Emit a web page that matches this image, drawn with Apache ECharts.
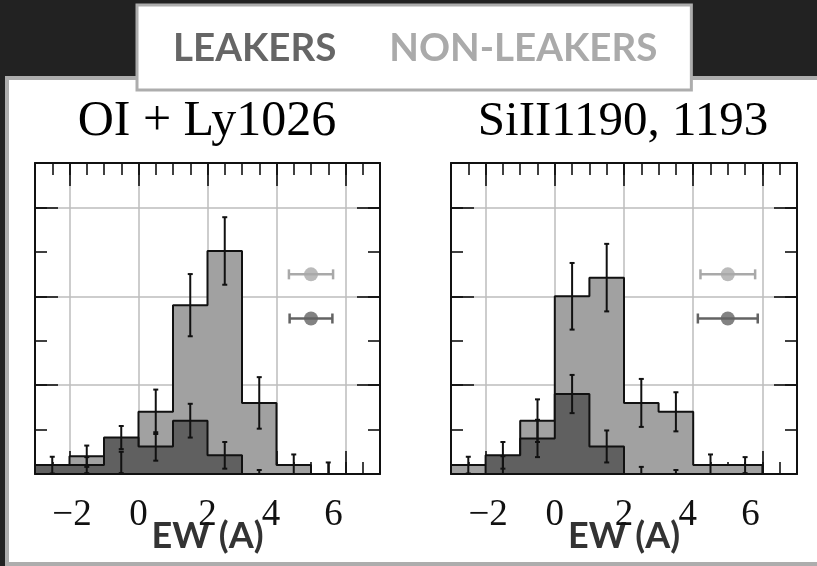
<!DOCTYPE html>
<html><head><meta charset="utf-8">
<script src="https://cdn.jsdelivr.net/npm/echarts@6/dist/echarts.min.js"></script>
<style>html,body{margin:0;padding:0;background:#222;overflow:hidden}#c{width:817px;height:566px}</style>
</head><body><div id="c"></div>
<script>
// ---- data ----
const binStarts = [-3, -2, -1, 0, 1, 2, 3, 4, 5, 6];
const binWidth = 1;
const panelTitles = ['OI + Ly1026', 'SiII1190, 1193'];
const seriesNames = ['LEAKERS', 'NON-LEAKERS'];
const tickValues = [-2, 0, 2, 4, 6];
const tickLabels = ['\u22122', '0', '2', '4', '6'];
const axisName = 'EW (A)';

// OI + Ly1026
const nonLeakOI    = [0, 0.020, 0.013, 0.070, 0.190, 0.251, 0.080, 0.010, 0, 0];
const nonLeakOIErr = [0, 0.012, 0.012, 0.025, 0.035, 0.038, 0.029, 0.012, 0.013, 0];
const leakOI       = [0.010, 0.010, 0.041, 0.031, 0.060, 0.021, 0, 0, 0, 0];
const leakOIErr    = [0.0094, 0.009, 0.013, 0.016, 0.019, 0.015, 0.0045, 0, 0, 0];
// SiII1190, 1193
const nonLeakSi    = [0.010, 0.010, 0.060, 0.200, 0.221, 0.080, 0.070, 0.010, 0.010, 0];
const nonLeakSiErr = [0.0094, 0.010, 0.024, 0.0375, 0.038, 0.027, 0.022, 0.012, 0.009, 0];
const leakSi       = [0, 0.021, 0.040, 0.090, 0.031, 0, 0, 0, 0, 0];
const leakSiErr    = [0, 0.015, 0.021, 0.0215, 0.018, 0.008, 0.0045, 0, 0, 0];

// in-panel reference error bars: [x, y, xerr]
const refOI_non  = [5.0, 0.2247, 0.64];
const refOI_leak = [5.0, 0.175, 0.62];
const refSi_non  = [5.0, 0.2247, 0.79];
const refSi_leak = [5.0, 0.175, 0.865];

// ---- styling ----
const LIGHT = '#a1a1a1', DARK = '#606060';
const LIGHT_MK = '#a9a9a9', DARK_MK = '#636363';
const INK = '#111';
const grids = [
  {left: 35, top: 163, width: 345, height: 311},
  {left: 451, top: 163, width: 346, height: 311}
];
const XMIN = -3, XMAX = 7, YMIN = 0, YMAX = 0.35;
// small horizontal nudges of the tick labels (px padding) as in the original figure
const labelPad = [[0, 0, 0, 5], [0, 0, 0, 0], [0, 0, 0, 0], [0, 11, 0, 0], [0, 24, 0, 0]];
const labelFont = {fontFamily: '"Liberation Serif", serif', fontSize: 37, color: INK};
const labelRich = {};
labelPad.forEach((pd, i) => { labelRich['t' + i] = Object.assign({padding: pd}, labelFont); });

function stepData(vals) {
  const last = binStarts[binStarts.length - 1] + binWidth;
  const d = [[binStarts[0], 0]];
  vals.forEach((v, i) => d.push([binStarts[i], v]));
  d.push([last, vals[vals.length - 1]]);
  d.push([last, 0]);
  return d;
}
function errData(vals, errs) {
  const d = [];
  vals.forEach((v, i) => {
    if (errs[i] > 0) d.push([binStarts[i] + binWidth / 2, Math.max(0, v - errs[i]), v + errs[i]]);
  });
  return d;
}
function vErrRender(params, api) {
  const x = api.value(0);
  const p1 = api.coord([x, api.value(1)]), p2 = api.coord([x, api.value(2)]);
  const cw = 2.5, st = {stroke: INK, lineWidth: 2};
  return {type: 'group', children: [
    {type: 'line', shape: {x1: p1[0], y1: p1[1], x2: p2[0], y2: p2[1]}, style: st},
    {type: 'line', shape: {x1: p1[0] - cw, y1: p1[1], x2: p1[0] + cw, y2: p1[1]}, style: st},
    {type: 'line', shape: {x1: p2[0] - cw, y1: p2[1], x2: p2[0] + cw, y2: p2[1]}, style: st}
  ]};
}
function hErrRender(params, api) {
  const x = api.value(0), y = api.value(1), e = api.value(2);
  const p1 = api.coord([x - e, y]), p2 = api.coord([x + e, y]);
  const color = params.dataIndex === 0 ? LIGHT_MK : DARK_MK;
  const ch = 5, st = {stroke: color, lineWidth: 2.5};
  return {type: 'group', children: [
    {type: 'line', shape: {x1: p1[0], y1: p1[1], x2: p2[0], y2: p2[1]}, style: st},
    {type: 'line', shape: {x1: p1[0], y1: p1[1] - ch, x2: p1[0], y2: p1[1] + ch}, style: st},
    {type: 'line', shape: {x1: p2[0], y1: p2[1] - ch, x2: p2[0], y2: p2[1] + ch}, style: st}
  ]};
}

const off = {show: false};
const noLine = {show: false, onZero: false};
const frameLine = {show: true, onZero: false, lineStyle: {color: INK, width: 2}};
const xAxes = [], yAxes = [], series = [];
const panels = [
  {non: nonLeakOI, nonErr: nonLeakOIErr, leak: leakOI, leakErr: leakOIErr, refs: [refOI_non, refOI_leak]},
  {non: nonLeakSi, nonErr: nonLeakSiErr, leak: leakSi, leakErr: leakSiErr, refs: [refSi_non, refSi_leak]}
];
const tickStyle = {color: INK, width: 1.6};
panels.forEach((p, g) => {
  const xb = xAxes.length;
  const baseX = {type: 'value', gridIndex: g, min: XMIN, max: XMAX, axisLabel: off, splitLine: off, axisLine: noLine, axisTick: off};
  // 0: data axis, major ticks bottom, grid lines, labels, name
  xAxes.push(Object.assign({}, baseX, {
    position: 'bottom', z: 0,
    axisTick: {show: true, inside: true, length: 23, customValues: tickValues, lineStyle: tickStyle},
    splitLine: {show: true, lineStyle: {color: '#bdbdbd', width: 1.5}},
    axisLabel: Object.assign({show: true, customValues: tickValues, margin: 23,
      formatter: v => { const i = tickValues.indexOf(v); return '{t' + i + '|' + tickLabels[i] + '}'; },
      rich: labelRich}, labelFont),
    name: axisName, nameLocation: 'middle', nameGap: 44, nameMoveOverlap: false,
    nameTextStyle: {fontFamily: 'Lato, sans-serif', fontWeight: 'bold', fontSize: 36, color: '#333'}
  }));
  // 1: minor ticks bottom
  xAxes.push(Object.assign({}, baseX, {position: 'bottom', z: 0, interval: 0.5,
    axisTick: {show: true, inside: true, length: 12, lineStyle: tickStyle}}));
  // 2: top frame + major ticks
  xAxes.push(Object.assign({}, baseX, {position: 'top', z: 10,
    axisLine: frameLine,
    axisTick: {show: true, inside: true, length: 23, customValues: tickValues, lineStyle: tickStyle}}));
  // 3: top minor ticks
  xAxes.push(Object.assign({}, baseX, {position: 'top', z: 10, interval: 0.5,
    axisTick: {show: true, inside: true, length: 12, lineStyle: tickStyle}}));
  // 4: bottom frame line above bars
  xAxes.push(Object.assign({}, baseX, {position: 'bottom', z: 10, axisLine: frameLine}));

  const yb = yAxes.length;
  const baseY = {type: 'value', gridIndex: g, min: YMIN, max: YMAX, axisLabel: off, splitLine: off, axisLine: noLine, axisTick: off};
  yAxes.push(Object.assign({}, baseY, {position: 'left', z: 0, interval: 0.1,
    splitLine: {show: true, lineStyle: {color: '#bdbdbd', width: 1.5}}}));
  ['left', 'right'].forEach(pos => {
    yAxes.push(Object.assign({}, baseY, {position: pos, z: 10, interval: 0.1,
      axisLine: frameLine,
      axisTick: {show: true, inside: true, length: 23, lineStyle: tickStyle}}));
    yAxes.push(Object.assign({}, baseY, {position: pos, z: 10, interval: 0.05,
      axisTick: {show: true, inside: true, length: 12, lineStyle: tickStyle}}));
  });

  const common = {xAxisIndex: xb, yAxisIndex: yb, type: 'line', step: 'end', showSymbol: false, symbol: 'none',
    animation: false, lineStyle: {color: INK, width: 2}};
  series.push(Object.assign({}, common, {name: seriesNames[1], z: 2, data: stepData(p.non),
    itemStyle: {color: LIGHT}, areaStyle: {color: LIGHT, opacity: 1}}));
  series.push(Object.assign({}, common, {name: seriesNames[0], z: 3, data: stepData(p.leak),
    itemStyle: {color: DARK}, areaStyle: {color: DARK, opacity: 1}}));
  series.push({type: 'custom', xAxisIndex: xb, yAxisIndex: yb, z: 5, animation: false,
    renderItem: vErrRender, encode: {x: 0, y: [1, 2]},
    data: errData(p.non, p.nonErr).concat(errData(p.leak, p.leakErr))});
  series.push({type: 'custom', xAxisIndex: xb, yAxisIndex: yb, z: 5, animation: false,
    renderItem: hErrRender, encode: {x: 0, y: 1}, data: p.refs});
  series.push({type: 'scatter', xAxisIndex: xb, yAxisIndex: yb, z: 6, animation: false,
    symbolSize: 14,
    data: [{value: p.refs[0].slice(0, 2), itemStyle: {color: LIGHT_MK}},
           {value: p.refs[1].slice(0, 2), itemStyle: {color: DARK_MK}}]});
});

const chart = echarts.init(document.getElementById('c'), null, {renderer: 'canvas'});
chart.setOption({
  backgroundColor: '#222',
  animation: false,
  grid: grids.map(g => Object.assign({containLabel: false, outerBoundsMode: 'none'}, g)),
  xAxis: xAxes,
  yAxis: yAxes,
  legend: {
    left: 137, top: 5, z: 20,
    data: [{name: seriesNames[0], textStyle: {color: '#666'}}, {name: seriesNames[1], textStyle: {color: '#aaa'}}],
    icon: 'rect', itemWidth: 0, itemHeight: 0, itemGap: 48,
    backgroundColor: '#fff', borderColor: '#adadad', borderWidth: 3,
    padding: [24, 34, 22, 31], selectedMode: false,
    textStyle: {fontFamily: 'Lato, sans-serif', fontWeight: 'bold', fontSize: 38.5}
  },
  graphic: [
    {type: 'rect', z: -10, shape: {x: 7, y: 78, width: 840, height: 486},
     style: {fill: '#fff', stroke: '#adadad', lineWidth: 4}},
    {type: 'text', z: 10, x: 207, y: 122, style: {text: panelTitles[0], font: '50px "Liberation Serif", serif', fill: '#000',
      align: 'center', verticalAlign: 'middle', textAlign: 'center', textVerticalAlign: 'middle'}},
    {type: 'text', z: 10, x: 623, y: 122, style: {text: panelTitles[1], font: '49px "Liberation Serif", serif', fill: '#000',
      align: 'center', verticalAlign: 'middle', textAlign: 'center', textVerticalAlign: 'middle'}}
  ],
  series: series
});
</script></body></html>
